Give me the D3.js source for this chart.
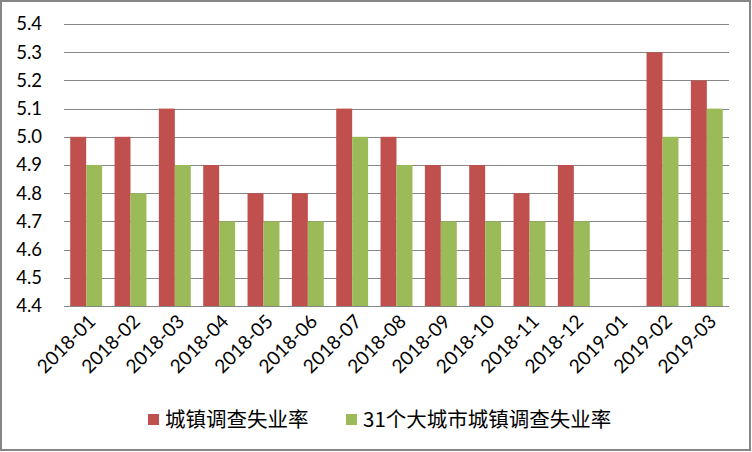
<!DOCTYPE html>
<html><head><meta charset="utf-8">
<script src="https://cdn.jsdelivr.net/npm/d3@7"></script>
<style>body{margin:0;background:#fff}svg{display:block}</style>
</head><body>
<svg id="c" width="752" height="452"></svg>
<script>
const categories = ["2018-01","2018-02","2018-03","2018-04","2018-05","2018-06","2018-07","2018-08","2018-09","2018-10","2018-11","2018-12","2019-01","2019-02","2019-03"];
const seriesNames = ["城镇调查失业率","31个大城市城镇调查失业率"];
const urbanRate = [5.0,5.0,5.1,4.9,4.8,4.8,5.1,5.0,4.9,4.9,4.8,4.9,null,5.3,5.2];
const bigCityRate = [4.9,4.8,4.9,4.7,4.7,4.7,5.0,4.9,4.7,4.7,4.7,4.7,null,5.0,5.1];
const yTicks = [4.4,4.5,4.6,4.7,4.8,4.9,5.0,5.1,5.2,5.3,5.4];
const colors = ["#C0504D","#9BBB59"];

(function(){
const svg = d3.select("#c");
svg.append("rect").attr("x",1).attr("y",1).attr("width",749).attr("height",449)
  .attr("fill","#fff").attr("stroke","#868686").attr("stroke-width",2);

const pl=64,pr=729,pt=24,pb=306;
const x = d3.scaleBand().domain(categories).range([pl,pr]).paddingInner(0.28).paddingOuter(0.14);
const x1 = d3.scaleBand().domain([0,1]).range([0,x.bandwidth()]);
const y = d3.scaleLinear().domain([4.4,5.4]).range([pb,pt]);

svg.append("g").selectAll("line").data(yTicks).join("line")
  .attr("x1",pl).attr("x2",pr).attr("y1",d=>Math.round(y(d))+0.5).attr("y2",d=>Math.round(y(d))+0.5)
  .attr("stroke","#868686").attr("stroke-width",1);

svg.append("g").selectAll("text").data(yTicks).join("text")
  .attr("x",42).attr("y",d=>y(d)).attr("dy","0.35em").attr("text-anchor","end")
  .attr("font-family","Lato, 'Open Sans', sans-serif").attr("font-size",18.5).attr("fill","#000")
  .text(d=>d.toFixed(1));

const series=[urbanRate,bigCityRate];
series.forEach((vals,si)=>{
  svg.append("g").selectAll("rect").data(categories.map((c,i)=>({c,v:vals[i]})).filter(d=>d.v!=null)).join("rect")
    .attr("x",d=>x(d.c)+x1(si)).attr("width",x1.bandwidth())
    .attr("y",d=>y(d.v)).attr("height",d=>y(4.4)-y(d.v)).attr("fill",colors[si]);
});

svg.append("g").selectAll("text").data(categories).join("text")
  .attr("transform",d=>`translate(${x(d)+x.bandwidth()/2+6},${318}) rotate(-45)`)
  .attr("text-anchor","end").attr("dy","0.35em")
  .attr("font-family","Lato, 'Open Sans', sans-serif").attr("font-size",19).attr("fill","#000")
  .text(d=>d);

const legX=[148,346];
seriesNames.forEach((n,i)=>{
  svg.append("rect").attr("x",legX[i]).attr("y",414).attr("width",11).attr("height",11).attr("fill",colors[i]);
  svg.append("text").attr("x",legX[i]+17).attr("y",427)
    .attr("font-family","'Noto Sans CJK SC', sans-serif").attr("font-size",20.5).attr("fill","#000").text(n);
});
})();
</script>
</body></html>
